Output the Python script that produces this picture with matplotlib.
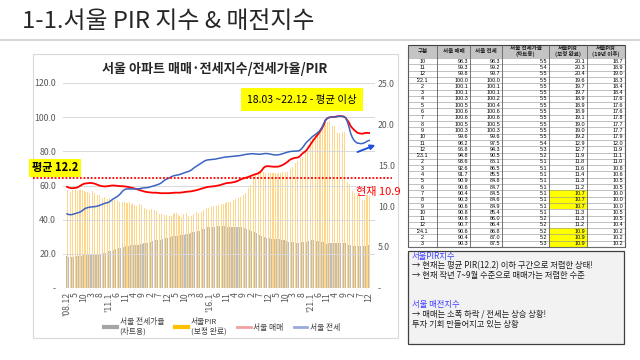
import numpy as np
import pandas as pd
import matplotlib
matplotlib.use('Agg')
import matplotlib.pyplot as plt
from matplotlib.patches import Rectangle
from matplotlib.lines import Line2D

plt.rcParams['font.family'] = ['Noto Sans CJK KR', 'DejaVu Sans']

# monthly series 2008.12 ~ 2023.12
months = pd.period_range('2008-12', '2023-12', freq='M')

sale = [59.2,
        58.8, 58.5, 58.4, 58.5, 58.6, 58.8, 59.3, 59.9, 60.5, 61.0, 61.2, 61.3,
        61.4, 61.5, 61.4, 61.2, 60.9, 60.5, 60.1, 59.8, 59.6, 59.5, 59.5, 59.6,
        59.7, 59.9, 60.0, 60.0, 59.9, 59.8, 59.7, 59.6, 59.6, 59.5, 59.4, 59.2,
        59.0, 58.8, 58.6, 58.3, 58.0, 57.7, 57.4, 57.1, 56.8, 56.5, 56.3, 56.1,
        56.0, 55.9, 55.8, 55.8, 55.8, 55.7, 55.6, 55.5, 55.5, 55.5, 55.5, 55.5,
        55.5, 55.6, 55.7, 55.8, 55.8, 55.8, 55.8, 55.9, 56.0, 56.2, 56.3, 56.4,
        56.5, 56.6, 56.8, 57.0, 57.2, 57.5, 57.8, 58.1, 58.4, 58.7, 59.0, 59.2,
        59.3, 59.4, 59.5, 59.6, 59.8, 60.0, 60.2, 60.5, 60.8, 61.1, 61.4, 61.5,
        61.6, 61.7, 61.9, 62.1, 62.4, 62.8, 63.3, 63.8, 64.1, 64.4, 64.7, 65.0,
        65.4, 65.8, 66.2, 66.5, 66.8, 67.2, 67.8, 68.8, 70.2, 71.0, 71.3, 71.3,
        71.2, 71.1, 71.0, 71.0, 71.0, 71.1, 71.4, 71.8, 72.3, 72.9, 73.6, 74.4,
        75.2, 75.6, 76.0, 76.2, 76.3, 76.6, 77.4, 78.5, 79.3, 80.0, 81.0, 82.5,
        84.0, 85.4, 86.8, 88.0, 89.3, 90.6, 92.0, 93.6, 95.6, 98.3, 99.3, 99.8,
        100.0, 100.1, 100.1, 100.3, 100.5, 100.6, 100.6, 100.5, 100.3, 99.6, 98.2, 96.8,
        94.8, 93.6, 92.6, 91.7, 90.9, 90.6, 90.4, 90.3, 90.6, 90.8, 90.8, 90.7]

jeonse = [43.4,
          43.0, 42.9, 43.0, 43.3, 43.6, 43.9, 44.2, 44.6, 45.2, 46.0, 46.6, 47.0,
          47.2, 47.4, 47.5, 47.6, 47.7, 47.9, 48.2, 48.6, 49.0, 49.4, 49.7, 49.9,
          50.3, 51.0, 51.8, 52.4, 53.0, 53.6, 54.4, 55.4, 56.6, 57.4, 57.9, 58.0,
          58.0, 58.0, 58.0, 58.0, 58.0, 58.0, 58.1, 58.3, 58.5, 58.6, 58.7, 58.8,
          59.0, 59.3, 59.6, 59.9, 60.2, 60.5, 60.9, 61.4, 62.2, 63.0, 63.6, 64.0,
          64.5, 65.0, 65.5, 65.8, 66.0, 66.2, 66.4, 66.7, 67.1, 67.5, 67.8, 68.1,
          68.5, 69.0, 69.8, 70.6, 71.2, 71.8, 72.5, 73.1, 73.8, 74.4, 74.8, 75.0,
          75.1, 75.2, 75.3, 75.4, 75.6, 75.8, 76.0, 76.2, 76.4, 76.6, 76.7, 76.8,
          76.9, 77.0, 77.1, 77.2, 77.3, 77.4, 77.5, 77.7, 77.9, 78.1, 78.3, 78.4,
          78.5, 78.6, 78.6, 78.5, 78.4, 78.3, 78.3, 78.4, 78.6, 78.7, 78.7, 78.6,
          78.4, 78.2, 78.0, 77.9, 77.9, 78.0, 78.2, 78.5, 78.8, 79.1, 79.4, 79.7,
          79.9, 80.0, 80.1, 80.1, 80.2, 80.3, 80.8, 81.8, 83.0, 84.5, 85.6, 86.5,
          87.4, 88.4, 89.2, 89.9, 90.6, 91.5, 92.7, 94.3, 96.4, 98.3, 99.2, 99.7,
          100.0, 100.1, 100.1, 100.2, 100.4, 100.6, 100.6, 100.5, 100.3, 99.6, 97.5, 94.3,
          90.5, 88.1, 86.5, 85.5, 84.8, 84.7, 84.5, 84.6, 84.9, 85.4, 86.0, 86.4]

pir = [11.9,
       11.8, 11.7, 11.9, 12.0, 11.9, 11.8, 12.0, 12.1, 11.9, 11.8, 11.7, 11.7,
       11.6, 11.7, 11.8, 11.6, 11.5, 11.4, 11.4, 11.0, 11.0, 11.1, 11.0, 10.9,
       11.0, 10.9, 10.8, 10.7, 10.6, 10.6, 10.5, 10.4, 10.5, 10.5, 10.4, 10.4,
       10.5, 10.3, 10.2, 10.1, 10.0, 10.1, 10.2, 10.1, 10.2, 9.7, 9.6, 9.6,
       9.5, 9.6, 9.5, 9.5, 9.4, 9.4, 9.0, 9.0, 9.0, 8.9, 8.9, 8.8,
       8.8, 8.8, 9.0, 9.2, 9.2, 8.9, 8.8, 8.7, 9.0, 9.2, 9.1, 8.8,
       8.7, 8.8, 9.0, 9.2, 9.3, 9.1, 9.2, 9.3, 9.5, 9.6, 9.7, 9.8,
       9.8, 9.9, 10.0, 10.0, 10.0, 10.1, 10.2, 10.3, 10.3, 10.4, 10.5, 10.5,
       10.5, 10.6, 10.7, 10.8, 10.9, 11.0, 11.1, 11.2, 11.4, 11.6, 11.9, 12.2,
       12.6, 13.0, 13.6, 14.0, 14.2, 14.3, 14.4, 14.5, 14.2, 14.0, 14.0, 14.0,
       14.0, 14.0, 14.0, 14.0, 13.9, 14.0, 14.0, 14.1, 14.1, 14.1, 14.1, 14.3,
       14.5, 14.8, 15.0, 15.3, 15.5, 15.6, 15.8, 16.0, 16.4, 16.8, 17.3, 17.7,
       18.0, 18.3, 18.6, 18.9, 19.1, 19.3, 19.5, 19.8, 20.0, 20.1, 20.3, 20.4,
       19.6, 19.7, 19.7, 18.9, 18.9, 18.9, 19.1, 19.0, 19.0, 19.2, 12.9, 12.7,
       11.9, 11.8, 11.6, 11.4, 11.3, 11.2, 10.7, 10.7, 10.7, 11.3, 11.3, 11.2]

ratio = [3.9,
         3.8, 3.8, 3.8, 3.8, 3.9, 3.9, 3.9, 3.9, 3.9, 4.0, 4.0, 4.0,
         4.0, 4.0, 4.0, 4.1, 4.1, 4.1, 4.2, 4.2, 4.2, 4.3, 4.3, 4.4,
         4.5, 4.5, 4.6, 4.6, 4.7, 4.8, 4.9, 4.9, 5.0, 5.0, 5.1, 5.1,
         5.1, 5.2, 5.2, 5.2, 5.2, 5.3, 5.3, 5.4, 5.4, 5.5, 5.5, 5.5,
         5.6, 5.6, 5.7, 5.7, 5.8, 5.8, 5.9, 5.9, 6.0, 6.0, 6.1, 6.1,
         6.2, 6.2, 6.3, 6.3, 6.3, 6.4, 6.4, 6.5, 6.5, 6.5, 6.6, 6.6,
         6.6, 6.7, 6.8, 6.8, 6.9, 7.0, 7.0, 7.1, 7.2, 7.2, 7.3, 7.4,
         7.4, 7.4, 7.5, 7.5, 7.5, 7.6, 7.6, 7.6, 7.6, 7.6, 7.6, 7.5,
         7.5, 7.5, 7.5, 7.5, 7.5, 7.4, 7.4, 7.4, 7.3, 7.3, 7.2, 7.2,
         7.1, 7.0, 6.9, 6.8, 6.7, 6.6, 6.5, 6.4, 6.3, 6.2, 6.1, 6.1,
         6.1, 6.0, 6.0, 6.0, 6.0, 6.0, 6.0, 5.9, 5.9, 5.8, 5.7, 5.6,
         5.6, 5.6, 5.6, 5.5, 5.5, 5.5, 5.6, 5.6, 5.6, 5.6, 5.6, 5.7,
         5.8, 5.8, 5.8, 5.8, 5.7, 5.7, 5.6, 5.6, 5.6, 5.5, 5.4, 5.5,
         5.5, 5.5, 5.5, 5.5, 5.5, 5.5, 5.5, 5.5, 5.5, 5.5, 5.4, 5.3,
         5.2, 5.1, 5.1, 5.1, 5.1, 5.1, 5.1, 5.1, 5.1, 5.1, 5.2, 5.2]

# table on the right
tbl_head = ['구분', '서울 매매', '서울 전세', '서울 전세가율\n(차트용)', '서울PIR\n(보정 완료)', '서울PIR\n(19년 이후)']
tbl_gubun = ['10', '11', '12', "'22.1", '2', '3', '4', '5', '6', '7', '8', '9', '10', '11', '12',
             "'23.1", '2', '3', '4', '5', '6', '7', '8', '9', '10', '11', '12', "'24.1", '2', '3']
tbl_sale = [98.3, 99.3, 99.8, 100.0, 100.1, 100.1, 100.3, 100.5, 100.6, 100.6, 100.5, 100.3, 99.6, 98.2, 96.8,
            94.8, 93.6, 92.6, 91.7, 90.9, 90.6, 90.4, 90.3, 90.6, 90.8, 90.8, 90.7, 90.6, 90.4, 90.3]
tbl_jeonse = [98.3, 99.2, 99.7, 100.0, 100.1, 100.1, 100.2, 100.4, 100.6, 100.6, 100.5, 100.3, 99.6, 97.5, 94.3,
              90.5, 88.1, 86.5, 85.5, 84.8, 84.7, 84.5, 84.6, 84.9, 85.4, 86.0, 86.4, 86.8, 87.0, 87.5]
tbl_ratio = [5.5, 5.4, 5.5, 5.5, 5.5, 5.5, 5.5, 5.5, 5.5, 5.5, 5.5, 5.5, 5.5, 5.4, 5.3,
             5.2, 5.1, 5.1, 5.1, 5.1, 5.1, 5.1, 5.1, 5.1, 5.1, 5.2, 5.2, 5.2, 5.2, 5.3]
tbl_pir = [20.1, 20.3, 20.4, 19.6, 19.7, 19.7, 18.9, 18.9, 18.9, 19.1, 19.0, 19.0, 19.2, 12.9, 12.7,
           11.9, 11.8, 11.6, 11.4, 11.3, 11.2, 10.7, 10.7, 10.7, 11.3, 11.3, 11.2, 10.9, 10.9, 10.9]
tbl_pir19 = [18.7, 18.9, 19.0, 18.3, 18.4, 18.4, 17.6, 17.6, 17.6, 17.8, 17.7, 17.7, 17.9, 12.0, 11.9,
             11.1, 11.0, 10.8, 10.6, 10.5, 10.5, 10.0, 10.0, 10.0, 10.5, 10.5, 10.4, 10.2, 10.2, 10.2]
tbl_yellow = [21, 22, 23, 27, 28, 29]

x = np.arange(len(months))
tick_pos = x[::5]
tick_lab = []
for i in tick_pos:
    p = months[i]
    if i == 0 or p.month == 1:
        tick_lab.append("'%02d.%d" % (p.year % 100, p.month))
    else:
        tick_lab.append(str(p.month))


def rect(x0, y0, x1, y1):
    # pixel box -> figure fraction
    return [x0 / 640, 1 - y1 / 360, (x1 - x0) / 640, (y1 - y0) / 360]


fig = plt.figure(figsize=(6.4, 3.6), dpi=100)
fig.patch.set_facecolor('white')

# background layer (frames, slide title)
bg = fig.add_axes([0, 0, 1, 1], zorder=0)
bg.set_xlim(0, 640)
bg.set_ylim(360, 0)
bg.axis('off')
bg.text(22, 21, '1-1.서울 PIR 지수 & 매전지수', fontsize=17.2, color='#262626', va='center', ha='left')
bg.plot([0, 640], [39.5, 39.5], color='#D0D0D0', lw=1.2)
bg.add_patch(Rectangle((33, 54), 365, 284, fill=False, ec='#D9D9D9', lw=0.8))

# chart: bars on right scale, lines on left scale
axb = fig.add_axes(rect(63, 83, 375, 288), zorder=1)
axl = axb.twinx()

axb.bar(x - 0.22, ratio, width=0.44, color='#BDBDBD', lw=0)
axb.bar(x + 0.22, pir, width=0.44, color='#FFC75A', alpha=0.7, lw=0)
axb.set_ylim(0, 25)
axb.set_xlim(-2.4, 183.5)
axb.yaxis.tick_right()
axb.set_yticks([0, 5, 10, 15, 20, 25])
axb.set_yticklabels(['-', '5.0', '10.0', '15.0', '20.0', '25.0'])
axb.set_xticks(tick_pos)
axb.set_xticklabels(tick_lab, rotation=90)
axb.tick_params(length=0, labelsize=6.3, labelcolor='#595959', pad=3)
axb.tick_params(axis='y', pad=2)
for s in axb.spines.values():
    s.set_visible(False)

axl.yaxis.tick_left()
axl.plot(x, sale, color='#FF0000', lw=1.3)
axl.plot(x, jeonse, color='#3B64C0', lw=1.1)
axl.set_ylim(0, 120)
axl.set_yticks([0, 20, 40, 60, 80, 100, 120])
axl.set_yticklabels(['-', '20.0', '40.0', '60.0', '80.0', '100.0', '120.0'])
axl.tick_params(length=0, labelsize=6.3, labelcolor='#595959', pad=5)
axl.grid(axis='y', color='#D9D9D9', lw=0.7)
axl.set_axisbelow(True)
for s in axl.spines.values():
    s.set_visible(False)

fig.text(215 / 640, 1 - 69 / 360, '서울 아파트 매매·전세지수/전세가율/PIR', fontsize=9.4,
         fontweight='bold', ha='center', va='center', color='#262626')

handles = [Line2D([], [], color='#A5A5A5', lw=3), Line2D([], [], color='#FFC000', lw=3),
           Line2D([], [], color='#F4A0A0', lw=2), Line2D([], [], color='#9AAADC', lw=2)]
labels = ['서울 전세가율\n(차트용)', '서울PIR\n(보정 완료)', '서울 매매', '서울 전세']
fig.legend(handles, labels, ncol=4, loc='center', bbox_to_anchor=(222 / 640, 1 - 327 / 360),
           frameon=False, fontsize=5.6, handlelength=1.7, columnspacing=1.4, handletextpad=0.3,
           labelcolor='#404040')

# annotations and table on top
ov = fig.add_axes([0, 0, 1, 1], zorder=3)
ov.set_xlim(0, 640)
ov.set_ylim(360, 0)
ov.axis('off')
ov.patch.set_alpha(0)

ov.plot([33, 392], [178, 178], color='#FF0000', lw=1.3, ls=(0, (1, 1)))
ov.text(55, 168, '평균 12.2', fontsize=8, fontweight='bold', ha='center', va='center',
        bbox=dict(boxstyle='square,pad=0.25', fc='#FFFF00', ec='none'))
ov.text(302, 99.5, '18.03 ~22.12 - 평균 이상', fontsize=7.5, ha='center', va='center',
        bbox=dict(boxstyle='square,pad=0.6', fc='#FFFF00', ec='none'))
ov.text(401, 192, '현재 10.9', fontsize=8, color='#FF0000', ha='right', va='center')
ov.annotate('', xy=(378, 144), xytext=(355, 153),
            arrowprops=dict(arrowstyle='-|>', color='#1F4FE0', lw=1.4, mutation_scale=7))

# table
cols = [408, 437, 470, 502, 549, 587, 625]
top, head_h, row_h = 45, 13, 6.3
n = len(tbl_gubun)
bottom = top + head_h + n * row_h
num_font = ['Liberation Sans', 'DejaVu Sans']
ov.add_patch(Rectangle((cols[0], top), cols[-1] - cols[0], head_h, fc='#C4C4C4', ec='none'))
for r in tbl_yellow:
    ov.add_patch(Rectangle((cols[4], top + head_h + r * row_h), cols[5] - cols[4], row_h,
                           fc='#FFFF00', ec='none'))
for j, h in enumerate(tbl_head):
    ov.text((cols[j] + cols[j + 1]) / 2, top + head_h / 2, h, fontsize=4.0, fontweight='bold',
            ha='center', va='center', linespacing=0.85, color='#202020')
for r in range(n + 1):
    yy = top + head_h + r * row_h
    ov.plot([cols[0], cols[-1]], [yy, yy], color='#909090', lw=0.4)
for c in cols:
    ov.plot([c, c], [top, bottom], color='#606060', lw=0.6)
ov.add_patch(Rectangle((cols[0], top), cols[-1] - cols[0], bottom - top, fill=False, ec='#404040', lw=0.8))
for r in range(n):
    yc = top + head_h + (r + 0.5) * row_h
    ov.text((cols[0] + cols[1]) / 2, yc, tbl_gubun[r], fontsize=3.9, family=num_font,
            ha='center', va='center')
    vals = [tbl_sale[r], tbl_jeonse[r], tbl_ratio[r], tbl_pir[r], tbl_pir19[r]]
    for j, v in enumerate(vals):
        ov.text(cols[j + 2] - 2, yc, '%.1f' % v, fontsize=3.9, family=num_font,
                ha='right', va='center')

# comment box
ov.add_patch(Rectangle((408, 251), 216, 93, fc='#F2F2F2', ec='#404040', lw=0.9))
notes = [('서울PIR지수', '#3F3FFF', 257),
         ('→ 현재는 평균 PIR(12.2) 이하 구간으로 저렴한 상태!', '#202020', 266),
         ('→ 현재 작년 7~9월 수준으로 매매가는 저렴한 수준', '#202020', 275.5),
         ('서울 매전지수', '#3F3FFF', 305),
         ('→ 매매는 소폭 하락 / 전세는 상승 상황!', '#202020', 314.5),
         ('투자 기회 만들어지고 있는 상황', '#202020', 324)]
for t, c, yy in notes:
    ov.text(412, yy, t, fontsize=6.0, color=c, ha='left', va='center')

fig.savefig('out.png', dpi=100)
